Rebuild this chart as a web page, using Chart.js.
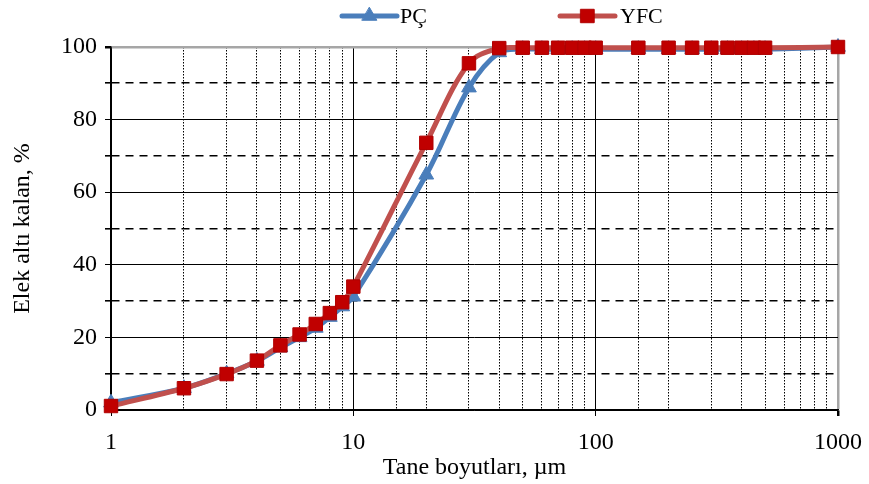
<!DOCTYPE html>
<html><head><meta charset="utf-8">
<script src="https://cdn.jsdelivr.net/npm/chart.js@4"></script>
<style>html,body{margin:0;padding:0;background:#fff}#wrap{width:869px;height:484px;position:relative}</style>
</head><body><div id="wrap"><canvas id="c" width="869" height="484"></canvas></div>
<script>
const sizes = [1,2,3,4,5,6,7,8,9,10,20,30,40,50,60,70,80,90,100,150,200,250,300,350,400,450,500,1000];
const pcValues = [2.0,6.0,10.0,13.5,17.2,20.0,22.6,25.6,28.5,31.2,64.8,88.8,98.5,99.4,99.4,99.4,99.4,99.4,99.4,99.4,99.4,99.4,99.4,99.4,99.4,99.4,99.4,100];
const yfcValues = [1.1,6.0,9.9,13.6,17.8,20.8,23.7,26.7,29.7,34.0,73.6,95.5,99.7,99.8,99.8,99.8,99.8,99.8,99.8,99.8,99.8,99.8,99.8,99.8,99.8,99.8,99.8,100];
const xTickLabels = [1,10,100,1000];
const yTickLabels = [0,20,40,60,80,100];
const seriesNames = ['PÇ','YFC'];
const FONT = "'Liberation Serif','Times New Roman',serif";

const isMajorX = v => Math.abs(Math.log10(v) - Math.round(Math.log10(v))) < 1e-9;

const legendPlugin = {
  id: 'xlLegend',
  afterDraw(chart) {
    const ctx = chart.ctx;
    const items = [
      {ds: chart.data.datasets[0], x0: 342, x1: 397, tx: 400},
      {ds: chart.data.datasets[1], x0: 560, x1: 615, tx: 620}
    ];
    const y = 16;
    items.forEach(it => {
      ctx.save();
      ctx.strokeStyle = it.ds.borderColor;
      ctx.lineWidth = it.ds.borderWidth;
      ctx.lineCap = 'round';
      ctx.beginPath(); ctx.moveTo(it.x0, y); ctx.lineTo(it.x1, y); ctx.stroke();
      ctx.fillStyle = it.ds.pointBackgroundColor;
      ctx.strokeStyle = it.ds.pointBorderColor;
      ctx.lineWidth = 1;
      Chart.helpers.drawPoint(ctx, {pointStyle: it.ds.pointStyle, radius: it.ds.pointRadius, borderWidth: 1, rotation: 0},
        (it.x0 + it.x1) / 2, y);
      ctx.fillStyle = '#000';
      ctx.font = "22px " + FONT;
      ctx.textBaseline = 'middle';
      ctx.fillText(it.ds.label, it.tx, y + 1);
      ctx.restore();
    });
  }
};

new Chart(document.getElementById('c'), {
  type: 'line',
  data: {
    datasets: [
      {
        label: seriesNames[0],
        data: sizes.map((s, i) => ({x: s, y: pcValues[i]})),
        borderColor: '#4A7EBB', backgroundColor: '#4A7EBB',
        borderWidth: 5, tension: 0.35, clip: false,
        pointStyle: 'triangle', pointRadius: 8.5,
        pointBackgroundColor: '#4A7EBB', pointBorderColor: '#4A7EBB', pointBorderWidth: 1,
        order: 1
      },
      {
        label: seriesNames[1],
        data: sizes.map((s, i) => ({x: s, y: yfcValues[i]})),
        borderColor: '#C0504D', backgroundColor: '#C00000',
        borderWidth: 5, tension: 0.35, clip: false,
        pointStyle: 'rect', pointRadius: 9.5,
        pointBackgroundColor: '#C00000', pointBorderColor: '#B00000', pointBorderWidth: 1,
        order: 0
      }
    ]
  },
  options: {
    responsive: false, animation: false, devicePixelRatio: 1,
    layout: {padding: {top: 47, right: 31, left: 0, bottom: 0}},
    plugins: {legend: {display: false}, tooltip: {enabled: false}},
    elements: {line: {capBezierPoints: true}},
    scales: {
      x: {
        type: 'logarithmic', min: 1, max: 1000,
        afterFit: s => { s.height = 74; s.paddingRight = 0; s.paddingLeft = 0; },
        ticks: {
          autoSkip: false, maxRotation: 0, padding: 12, color: '#000',
          font: {family: FONT, size: 24},
          callback: v => xTickLabels.includes(v) ? String(v) : ''
        },
        grid: {
          color: c => (c.tick && c.tick.value === 1000) ? '#A6A6A6' : '#000',
          lineWidth: c => (c.tick && c.tick.value === 1000) ? 2.5 : 1,
          tickLength: 6,
          tickColor: c => (c.tick && isMajorX(c.tick.value)) ? '#000' : 'rgba(0,0,0,0)'
        },
        border: {
          display: true, color: '#000', width: 1.5,
          dash: c => (c.tick && !isMajorX(c.tick.value)) ? [1.5, 1.5] : []
        },
        title: {display: true, text: 'Tane boyutları, µm', color: '#000', font: {family: FONT, size: 24}, padding: {top: 0, bottom: 2}}
      },
      y: {
        min: 0, max: 100,
        afterFit: s => { s.width = 111; },
        ticks: {
          stepSize: 10, padding: 8, color: '#000',
          font: {family: FONT, size: 24},
          callback: v => yTickLabels.includes(v) ? String(v) : ''
        },
        grid: {
          color: c => (c.tick && c.tick.value === 100) ? '#A6A6A6' : '#000',
          lineWidth: c => (c.tick && c.tick.value === 100) ? 2.5 : ((c.tick && c.tick.value % 20 === 10) ? 1.6 : 1),
          tickLength: 6, tickColor: '#000'
        },
        border: {
          display: true, color: '#000', width: 1.5,
          dash: c => (c.tick && c.tick.value % 20 === 10) ? [8, 6] : []
        },
        title: {display: true, text: 'Elek altı kalan, %', color: '#000', font: {family: FONT, size: 24}, padding: {top: 8, bottom: 4}}
      }
    }
  },
  plugins: [legendPlugin]
});
</script></body></html>
